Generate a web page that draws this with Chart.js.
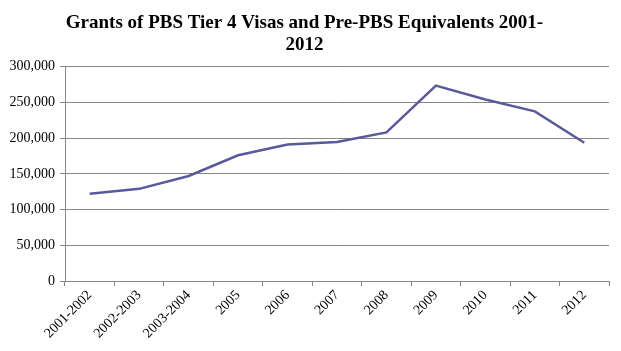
<!DOCTYPE html>
<html><head><meta charset="utf-8">
<script src="https://cdn.jsdelivr.net/npm/chart.js@4"></script>
<style>html,body{margin:0;padding:0;background:#fff}#wrap{width:621px;height:351px}</style>
</head><body><div id="wrap"><canvas id="c" width="621" height="351"></canvas></div>
<script>
const categories = ['2001-2002','2002-2003','2003-2004','2005','2006','2007','2008','2009','2010','2011','2012'];
const grants = [122000,129000,147000,176000,191000,194500,208000,273500,254000,237500,193500];
const yTicks = [0,50000,100000,150000,200000,250000,300000];
const titleLines = ['Grants of PBS Tier 4 Visas and Pre-PBS Equivalents 2001-','2012'];

const serif = '"Liberation Serif", "DejaVu Serif", serif';
new Chart(document.getElementById('c'), {
  type: 'line',
  data: { labels: categories, datasets: [{ data: grants, borderColor: '#5A5A9A', borderWidth: 2.5, pointRadius: 0, tension: 0, fill: false }] },
  options: {
    responsive: false, animation: false,
    layout: { padding: { left: 0, right: 12, top: 0, bottom: 0 } },
    plugins: {
      legend: { display: false }, tooltip: { enabled: false },
      title: { display: true, text: titleLines, color: '#000', font: { family: serif, size: 19, weight: 'bold', lineHeight: 1.15 }, padding: { top: 12, bottom: 11 } }
    },
    scales: {
      x: {
        offset: true,
        afterFit: (s) => { s.height = 70; },
        grid: { offset: true, drawOnChartArea: false, drawTicks: true, tickLength: 5, color: '#868686' },
        border: { color: '#868686' },
        ticks: { color: '#000', font: { family: serif, size: 14 }, minRotation: 45, maxRotation: 45, padding: 1 }
      },
      y: {
        min: 0, max: 300000,
        afterBuildTicks: (s) => { s.ticks = yTicks.map(v => ({ value: v })); },
        afterFit: (s) => { s.width = 65; },
        grid: { color: '#868686', tickLength: 5 },
        border: { color: '#868686' },
        ticks: { color: '#000', font: { family: serif, size: 14 }, padding: 5, callback: (v) => v.toLocaleString('en-US') }
      }
    }
  }
});
</script></body></html>
